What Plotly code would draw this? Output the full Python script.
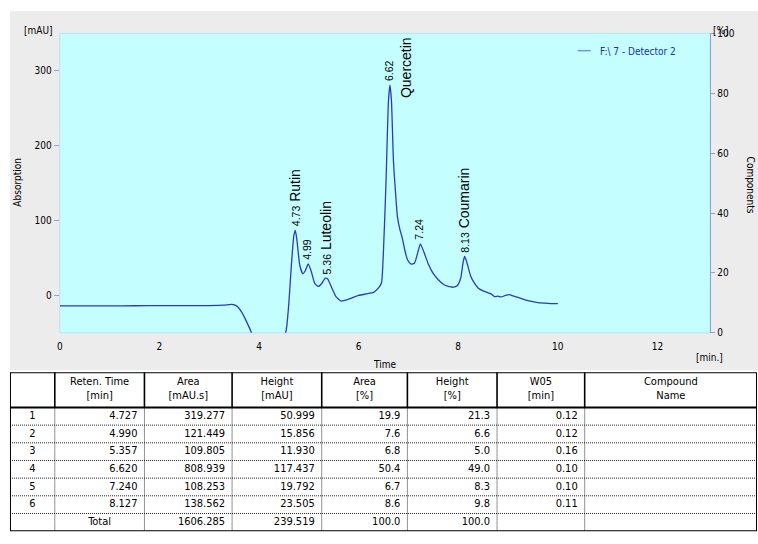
import plotly.graph_objects as go

W, H = 758, 544

# ---------------- chromatogram ----------------
time_min = [0.0, 0.5, 1.0, 1.5, 2.0, 2.5, 3.0, 3.3, 3.45, 3.55, 3.65, 3.75, 3.85, 3.9, 4.0,
            4.2, 4.4, 4.5, 4.55, 4.6, 4.65, 4.70, 4.73, 4.76, 4.82, 4.88, 4.93, 4.99, 5.05,
            5.12, 5.19, 5.26, 5.33, 5.38, 5.45, 5.55, 5.65, 5.8, 6.0, 6.15, 6.3, 6.4, 6.46,
            6.5, 6.55, 6.6, 6.63, 6.66, 6.7, 6.74, 6.78, 6.83, 6.88, 6.93, 6.98, 7.05, 7.12,
            7.18, 7.24, 7.3, 7.4, 7.5, 7.6, 7.7, 7.8, 7.9, 7.98, 8.05, 8.1, 8.13, 8.17, 8.25,
            8.32, 8.4, 8.5, 8.6, 8.66, 8.73, 8.8, 8.86, 8.95, 9.03, 9.1, 9.26, 9.4, 9.6, 9.8, 10.0]
absorb_mau = [-14, -14, -14, -13.8, -13.5, -13.5, -13.5, -13, -12, -14, -22, -35, -50, -60, -80,
              -100, -90, -60, -45, -10, 40, 80, 87, 75, 40, 29, 33, 42, 32,
              16, 12, 16, 23, 22, 12, -2, -7.5, -5, 0, 2, 4, 10, 17,
              60, 150, 260, 281, 260, 180, 139, 105, 88, 76, 60, 48, 42, 43,
              55, 69, 60, 42, 29, 21, 15, 12, 11, 13, 23, 45, 52, 45, 26,
              17, 10, 6, 3.5, 2, -1.5, -1, -2, 0, 1, -0.5, -4, -7, -9.5, -10.5, -11]

# peak labels
peak_times = [4.73, 4.99, 5.36, 6.62, 7.24, 8.13]
peak_apex = [87, 42, 23, 281, 69, 52]
peak_names = ["Rutin", "", "Luteolin", "Quercetin", "", "Coumarin"]

# ---------------- peak table ----------------
row_no = ["1", "2", "3", "4", "5", "6"]
ret_time = [4.727, 4.990, 5.357, 6.620, 7.240, 8.127]
area = [319.277, 121.449, 109.805, 808.939, 108.253, 138.562]
height = [50.999, 15.856, 11.930, 117.437, 19.792, 23.505]
area_pct = [19.9, 7.6, 6.8, 50.4, 6.7, 8.6]
height_pct = [21.3, 6.6, 5.0, 49.0, 8.3, 9.8]
w05 = [0.12, 0.12, 0.16, 0.10, 0.10, 0.11]
compound = ["", "", "", "", "", ""]
total_label = "Total"
total_area = 1606.285
total_height = 239.519
total_area_pct = 100.0
total_height_pct = 100.0
headers = [("", ""), ("Reten. Time", "[min]"), ("Area", "[mAU.s]"), ("Height", "[mAU]"),
           ("Area", "[%]"), ("Height", "[%]"), ("W05", "[min]"), ("Compound", "Name")]

TICKFONT = dict(family="DejaVu Sans Condensed, DejaVu Sans", size=10, color="#000000")
LINE_BLUE = "#2a3db5"
AXIS_LAV = "#9a9ad6"

fig = go.Figure()

fig.add_trace(go.Scatter(x=time_min, y=absorb_mau, mode="lines",
                         line=dict(color=LINE_BLUE, width=1.3, shape="spline", smoothing=0.5),
                         showlegend=False, hoverinfo="skip"))
# empty trace to register the right axis
fig.add_trace(go.Scatter(x=[], y=[], xaxis="x", yaxis="y3", showlegend=False))

# ---------------- table text as scatter text on table axes ----------------
edges = [0, 45, 135, 223, 313, 399, 489, 577, 750]
PAD = 7
tx, ty, tt, tp = [], [], [], []
for c, (h1, h2) in enumerate(headers):
    cx = (edges[c] + edges[c + 1]) / 2
    for yy, s in ((0.55, h1), (1.37, h2)):
        if s:
            tx.append(cx); ty.append(yy); tt.append(s); tp.append("middle center")

cols = [
    [f"{v:.3f}" for v in ret_time],
    [f"{v:.3f}" for v in area],
    [f"{v:.3f}" for v in height],
    [f"{v:.1f}" for v in area_pct],
    [f"{v:.1f}" for v in height_pct],
    [f"{v:.2f}" for v in w05],
]
for r in range(len(row_no)):
    yy = 2 + r + 0.5
    tx.append((edges[0] + edges[1]) / 2); ty.append(yy); tt.append(row_no[r]); tp.append("middle center")
    for c, col in enumerate(cols):
        tx.append(edges[c + 2] - PAD); ty.append(yy); tt.append(col[r]); tp.append("middle left")
yy = 2 + len(row_no) + 0.5
tx.append((edges[1] + edges[2]) / 2); ty.append(yy); tt.append(total_label); tp.append("middle center")
for c, v in enumerate([f"{total_area:.3f}", f"{total_height:.3f}",
                       f"{total_area_pct:.1f}", f"{total_height_pct:.1f}"]):
    tx.append(edges[c + 3] - PAD); ty.append(yy); tt.append(v); tp.append("middle left")

fig.add_trace(go.Scatter(x=tx, y=ty, text=tt, textposition=tp, mode="text",
                         textfont=dict(family="DejaVu Sans Condensed, DejaVu Sans", size=11, color="#000"),
                         xaxis="x2", yaxis="y2", showlegend=False, hoverinfo="skip", cliponaxis=False))

shapes = []
# gray panel and cyan plot background
shapes.append(dict(type="rect", xref="paper", yref="paper", x0=7 / W, x1=1, y0=1 - 372 / H, y1=1 - 6 / H,
                   fillcolor="#ececec", line=dict(width=0), layer="below"))
shapes.append(dict(type="rect", xref="x domain", yref="y domain", x0=0, x1=1, y0=0, y1=1,
                   fillcolor="#c4feff", line=dict(color="#b4e4f4", width=1), layer="below"))
# legend sample line
shapes.append(dict(type="line", xref="paper", yref="paper", x0=577 / W, x1=590 / W,
                   y0=1 - 46.5 / H, y1=1 - 46.5 / H, line=dict(color="#7b95dd", width=1.5)))
# table grid
nrows = len(row_no) + 1
for k in range(3, 2 + nrows):
    shapes.append(dict(type="line", xref="x2", yref="y2", x0=0, x1=750, y0=k, y1=k,
                       line=dict(color="#222", width=1, dash="1px,1px")))
for e in edges[1:-1]:
    shapes.append(dict(type="line", xref="x2", yref="y2", x0=e, x1=e, y0=2, y1=2 + nrows,
                       line=dict(color="#222", width=1, dash="1px,1px")))
    shapes.append(dict(type="line", xref="x2", yref="y2", x0=e, x1=e, y0=0, y1=2,
                       line=dict(color="#000", width=1.6)))
shapes.append(dict(type="line", xref="x2", yref="y2", x0=0, x1=750, y0=2, y1=2,
                   line=dict(color="#000", width=2)))
shapes.append(dict(type="rect", xref="x2", yref="y2", x0=0, x1=750, y0=0, y1=2 + nrows,
                   line=dict(color="#000", width=2)))

annotations = []
# peak labels
for t, a, n in zip(peak_times, peak_apex, peak_names):
    num = f"<span style='font-size:10.5px'>{t:.2f}</span>"
    if n and n != "Quercetin":
        txt = num + " " + n
    else:
        txt = num
    annotations.append(dict(x=t, y=a, xref="x", yref="y", text=txt, textangle=-90,
                            showarrow=False, xanchor="center", yanchor="bottom", yshift=2, xshift=-1,
                            font=dict(family="Liberation Sans, Arial", size=14, color="#000")))
    if n == "Quercetin":
        annotations.append(dict(x=t, y=a, xref="x", yref="y", text=n, textangle=-90,
                                showarrow=False, xanchor="center", yanchor="top", xshift=16, yshift=50,
                                font=dict(family="Liberation Sans, Arial", size=14, color="#000")))

small = dict(family="DejaVu Sans Condensed, DejaVu Sans", size=10, color="#000")
annotations += [
    dict(x=52 / W, y=1 - 26 / H, xref="paper", yref="paper", text="[mAU]", showarrow=False,
         xanchor="right", yanchor="middle", font=small),
    dict(x=711 / W, y=1 - 26 / H, xref="paper", yref="paper", text="[%]", showarrow=False,
         xanchor="left", yanchor="middle", font=small),
    dict(x=15 / W, y=1 - 180 / H, xref="paper", yref="paper", text="Absorption", showarrow=False,
         textangle=-90, xanchor="center", yanchor="middle", font=small),
    dict(x=750 / W, y=1 - 183 / H, xref="paper", yref="paper", text="Components", showarrow=False,
         textangle=90, xanchor="center", yanchor="middle", font=small),
    dict(x=383 / W, y=1 - 366 / H, xref="paper", yref="paper", text="Time", showarrow=False,
         xanchor="center", yanchor="middle", font=small),
    dict(x=709 / W, y=1 - 359 / H, xref="paper", yref="paper", text="[min.]", showarrow=False,
         xanchor="center", yanchor="middle", font=small),
    dict(x=597 / W, y=1 - 47 / H, xref="paper", yref="paper", text="F:\\ 7 - Detector 2", showarrow=False,
         xanchor="left", yanchor="middle",
         font=dict(family="DejaVu Sans Condensed, DejaVu Sans", size=10, color="#2030a8")),
]

fig.update_layout(
    width=W, height=H,
    margin=dict(l=0, r=0, t=0, b=0),
    paper_bgcolor="#ffffff",
    plot_bgcolor="rgba(0,0,0,0)",
    showlegend=False,
    hovermode=False,
    xaxis=dict(domain=[57 / W, 710 / W], range=[0, 13.06], dtick=2, tick0=0,
               showgrid=False, zeroline=False, showline=False, ticks="",
               ticklabelstandoff=6, tickfont=TICKFONT, anchor="y"),
    yaxis=dict(domain=[1 - 334 / H, 1 - 29 / H], range=[-50, 350], dtick=100, tick0=0,
               showgrid=False, zeroline=False, showline=False, ticks="outside", ticklen=5,
               tickcolor=AXIS_LAV, tickfont=TICKFONT, anchor="x"),
    yaxis3=dict(range=[0, 100], dtick=20, tick0=0, overlaying="y", side="right", anchor="x",
                showgrid=False, zeroline=False, showline=True, linecolor=AXIS_LAV, linewidth=1,
                ticks="outside", ticklen=4, tickcolor=AXIS_LAV, tickfont=TICKFONT),
    xaxis2=dict(domain=[7 / W, 757 / W], range=[0, 750], visible=False, anchor="y2", fixedrange=True),
    yaxis2=dict(domain=[1 - 536 / H, 1 - 374 / H], range=[2 + nrows, 0], visible=False, anchor="x2",
                fixedrange=True),
    shapes=shapes,
    annotations=annotations,
)

fig.write_html("out.html", config={"displayModeBar": False, "staticPlot": True},
               post_script="document.body.style.margin='0';document.body.style.overflow='hidden';")
